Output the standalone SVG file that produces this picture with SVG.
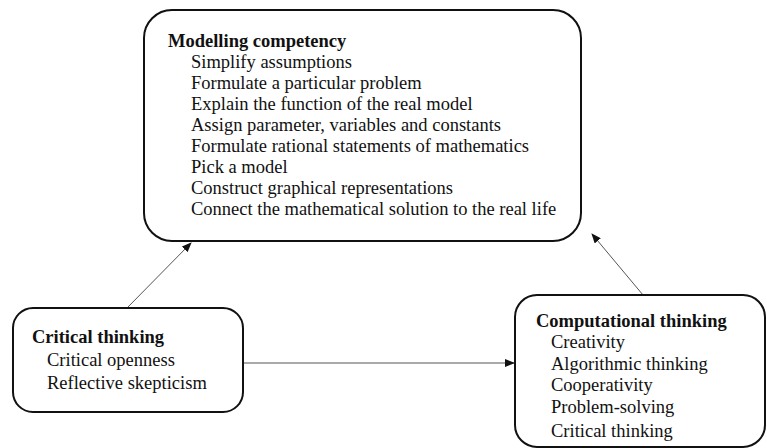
<svg xmlns="http://www.w3.org/2000/svg" width="767" height="448" viewBox="0 0 767 448">
<style>
.box{fill:#fff;stroke:#111;stroke-width:2}
.t{font-family:"Liberation Serif","Times New Roman",serif;font-size:18.5px;fill:#111}
.h{font-weight:bold}
.c{stroke:#555;stroke-width:1;fill:none;marker-end:url(#ah)}
</style>
<defs>
<marker id="ah" markerWidth="10" markerHeight="8" refX="9" refY="4" orient="auto" markerUnits="userSpaceOnUse">
<path d="M0,0 L10,4 L0,8 Z" fill="#111"/>
</marker>
<clipPath id="clipComp"><rect x="0" y="0" width="767" height="441"/></clipPath>
</defs>
<rect width="767" height="448" fill="#fff"/>
<g id="connectors">
<line class="c" x1="127" y1="308" x2="191" y2="243"/>
<line class="c" x1="643" y1="295" x2="592" y2="234"/>
<line class="c" x1="243" y1="363" x2="514" y2="363"/>
</g>
<g id="modelling">
<rect class="box" x="144" y="10" width="437" height="231" rx="28"/>
<text class="t h" x="168" y="47">Modelling competency</text>
<text class="t" x="191" y="68">Simplify assumptions</text>
<text class="t" x="191" y="89">Formulate a particular problem</text>
<text class="t" x="191" y="110">Explain the function of the real model</text>
<text class="t" x="191" y="131">Assign parameter, variables and constants</text>
<text class="t" x="191" y="152">Formulate rational statements of mathematics</text>
<text class="t" x="191" y="173">Pick a model</text>
<text class="t" x="191" y="194">Construct graphical representations</text>
<text class="t" x="191" y="215">Connect the mathematical solution to the real life</text>
</g>
<g id="critical">
<rect class="box" x="13" y="308" width="230" height="104" rx="20"/>
<text class="t h" x="32" y="343">Critical thinking</text>
<text class="t" x="47" y="366">Critical openness</text>
<text class="t" x="47" y="389">Reflective skepticism</text>
</g>
<g id="computational">
<rect class="box" x="515" y="295" width="250" height="152" rx="22"/>
<g clip-path="url(#clipComp)">
<text class="t h" x="536" y="327">Computational thinking</text>
<text class="t" x="551" y="348">Creativity</text>
<text class="t" x="551" y="370">Algorithmic thinking</text>
<text class="t" x="551" y="391">Cooperativity</text>
<text class="t" x="551" y="413">Problem-solving</text>
<text class="t" x="551" y="437">Critical thinking</text>
</g>
</g>
</svg>
